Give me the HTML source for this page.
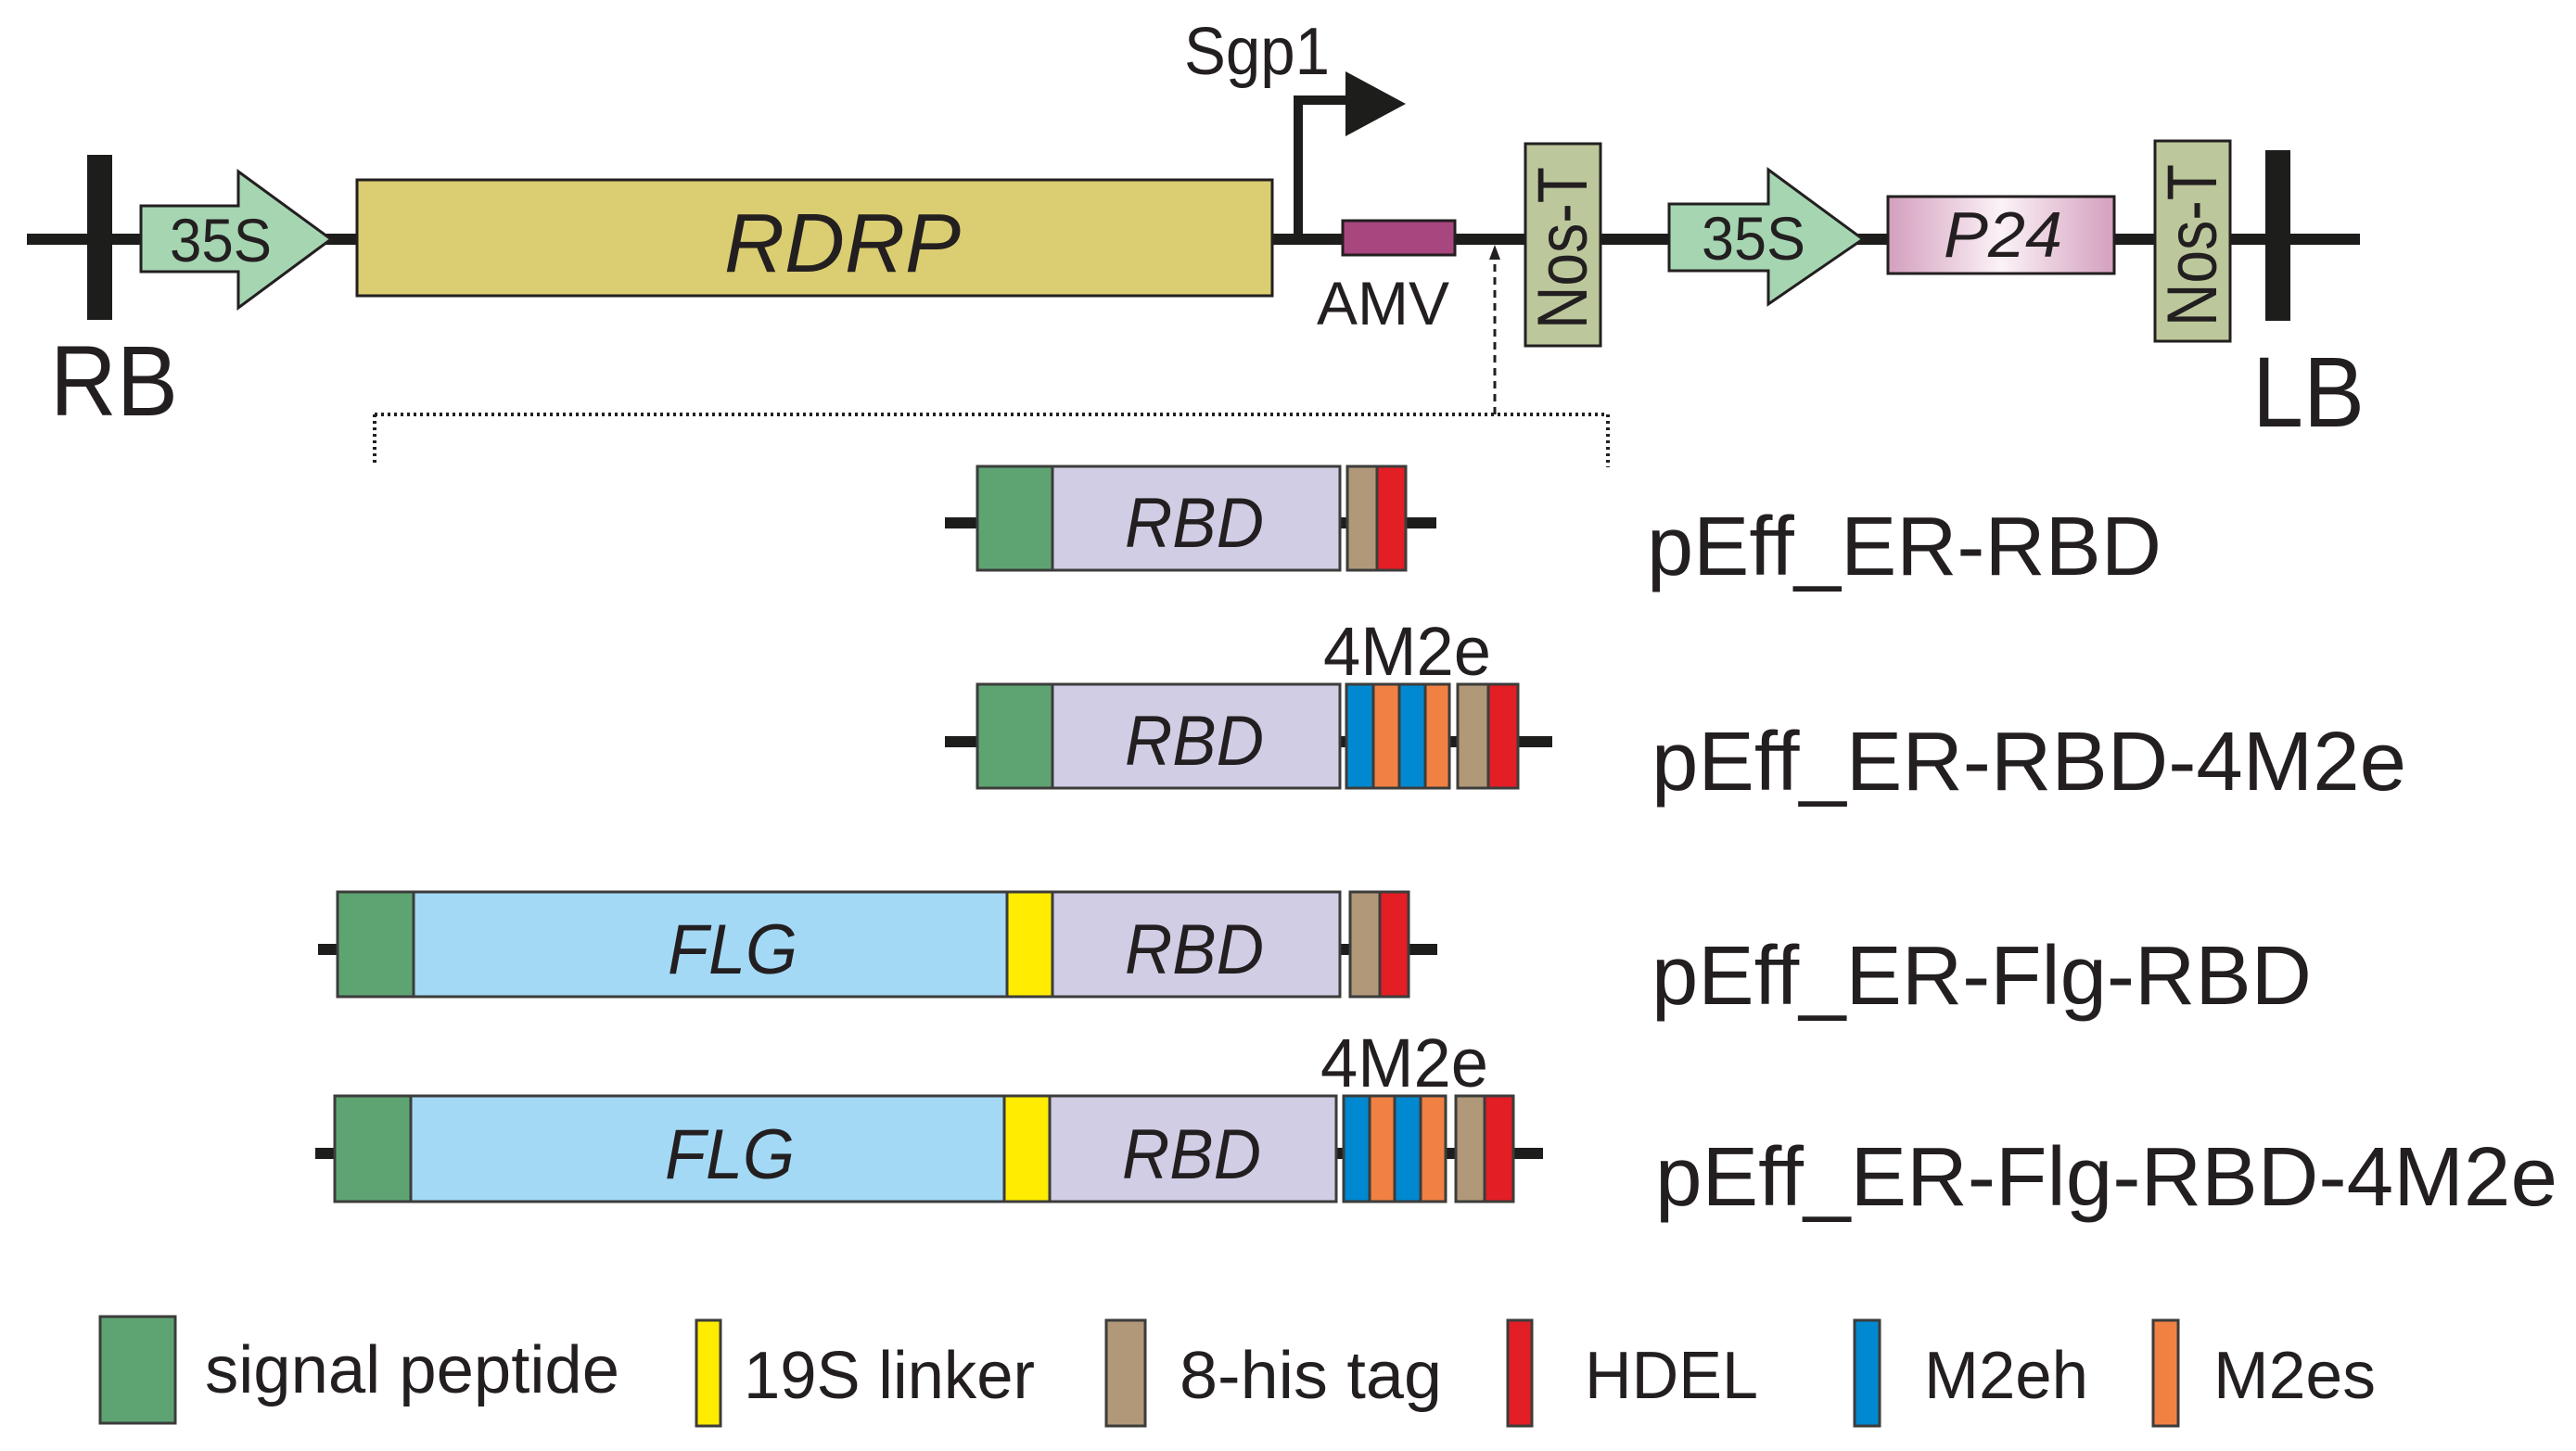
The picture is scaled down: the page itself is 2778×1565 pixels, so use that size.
<!DOCTYPE html>
<html><head><meta charset="utf-8"><style>
html,body{margin:0;padding:0;background:#fff;}
svg{display:block;}
text{font-family:"Liberation Sans",Arial,sans-serif;fill:#231f20;}
</style></head><body>
<svg width="2778" height="1565" viewBox="0 0 2778 1565" xmlns="http://www.w3.org/2000/svg">
<defs>
<linearGradient id="pg" x1="0" x2="1" y1="0" y2="0">
<stop offset="0" stop-color="#d49fbd"/><stop offset="0.5" stop-color="#fbf2f7"/><stop offset="1" stop-color="#d49fbd"/>
</linearGradient>
</defs>
<!-- main line -->
<rect x="29" y="252" width="2516" height="12" fill="#1d1d1b"/>
<rect x="94" y="167" width="27" height="178" fill="#1d1d1b"/>
<rect x="2443" y="162" width="27" height="184" fill="#1d1d1b"/>
<!-- 35S arrows -->
<polygon points="152,222 257,222 257,185 357,258 257,332 257,293 152,293" fill="#a6d5b2" stroke="#231f20" stroke-width="3"/>
<polygon points="1800,220 1907,220 1907,183 2009,258 1907,328 1907,292 1800,292" fill="#a6d5b2" stroke="#231f20" stroke-width="3"/>
<text x="183" y="282" font-size="66" textLength="110" lengthAdjust="spacingAndGlyphs">35S</text>
<text x="1835" y="280" font-size="66" textLength="112" lengthAdjust="spacingAndGlyphs">35S</text>
<!-- RDRP -->
<rect x="385" y="194" width="987" height="125" fill="#dacd72" stroke="#231f20" stroke-width="3"/>
<text x="781" y="293" font-size="90" font-style="italic" textLength="255" lengthAdjust="spacingAndGlyphs">RDRP</text>
<!-- promoter -->
<path d="M1400,258 V108 H1455" fill="none" stroke="#1d1d1b" stroke-width="10"/>
<polygon points="1451,77 1516,112 1451,147" fill="#1d1d1b"/>
<text x="1277" y="80" font-size="72" textLength="157" lengthAdjust="spacingAndGlyphs">Sgp1</text>
<!-- AMV -->
<rect x="1448" y="238" width="121" height="37" fill="#a8467f" stroke="#231f20" stroke-width="3"/>
<text x="1420" y="350" font-size="66" textLength="143" lengthAdjust="spacingAndGlyphs">AMV</text>
<!-- Nos-T -->
<rect x="1645" y="155" width="81" height="218" fill="#bcc89c" stroke="#231f20" stroke-width="3"/>
<text transform="translate(1711,355) rotate(-90)" font-size="76" textLength="175" lengthAdjust="spacingAndGlyphs">Nos-T</text>
<rect x="2324" y="152" width="81" height="216" fill="#bcc89c" stroke="#231f20" stroke-width="3"/>
<text transform="translate(2390,352) rotate(-90)" font-size="76" textLength="175" lengthAdjust="spacingAndGlyphs">Nos-T</text>
<!-- P24 -->
<rect x="2036" y="212" width="244" height="83" fill="url(#pg)" stroke="#231f20" stroke-width="3"/>
<text x="2096" y="277" font-size="70" font-style="italic" textLength="128" lengthAdjust="spacingAndGlyphs">P24</text>
<!-- RB LB -->
<text x="54" y="448" font-size="108" textLength="138" lengthAdjust="spacingAndGlyphs">RB</text>
<text x="2429" y="460" font-size="108" textLength="121" lengthAdjust="spacingAndGlyphs">LB</text>
<!-- dotted -->
<path d="M404,447 H1734 M404,447 V502 M1734,447 V504" fill="none" stroke="#231f20" stroke-width="4" stroke-dasharray="3,4"/>
<path d="M1612,447 V275" fill="none" stroke="#231f20" stroke-width="3" stroke-dasharray="8,6"/>
<polygon points="1606,280 1612,264 1618,280" fill="#231f20"/>

<g stroke="#3c3c3b" stroke-width="3">
<!-- Row1 -->
<rect x="1019" y="558" width="530" height="12" fill="#1d1d1b" stroke="none"/>
<rect x="1054" y="503" width="81" height="112" fill="#5ea473"/>
<rect x="1135" y="503" width="310" height="112" fill="#d1cde5"/>
<rect x="1453" y="503" width="32" height="112" fill="#b19878"/>
<rect x="1485" y="503" width="31" height="112" fill="#e31e24"/>
<!-- Row2 -->
<rect x="1019" y="794" width="655" height="12" fill="#1d1d1b" stroke="none"/>
<rect x="1054" y="738" width="81" height="112" fill="#5ea473"/>
<rect x="1135" y="738" width="310" height="112" fill="#d1cde5"/>
<rect x="1452" y="738" width="29" height="112" fill="#0089d0"/>
<rect x="1481" y="738" width="28" height="112" fill="#f08143"/>
<rect x="1509" y="738" width="28" height="112" fill="#0089d0"/>
<rect x="1537" y="738" width="26" height="112" fill="#f08143"/>
<rect x="1572" y="738" width="33" height="112" fill="#b19878"/>
<rect x="1605" y="738" width="32" height="112" fill="#e31e24"/>
<!-- Row3 -->
<rect x="343" y="1018" width="1207" height="12" fill="#1d1d1b" stroke="none"/>
<rect x="364" y="962" width="82" height="113" fill="#5ea473"/>
<rect x="446" y="962" width="640" height="113" fill="#a3d9f5"/>
<rect x="1086" y="962" width="49" height="113" fill="#ffec00"/>
<rect x="1135" y="962" width="310" height="113" fill="#d1cde5"/>
<rect x="1456" y="962" width="32" height="113" fill="#b19878"/>
<rect x="1488" y="962" width="31" height="113" fill="#e31e24"/>
<!-- Row4 -->
<rect x="340" y="1238" width="1324" height="12" fill="#1d1d1b" stroke="none"/>
<rect x="361" y="1182" width="82" height="114" fill="#5ea473"/>
<rect x="443" y="1182" width="640" height="114" fill="#a3d9f5"/>
<rect x="1083" y="1182" width="49" height="114" fill="#ffec00"/>
<rect x="1132" y="1182" width="309" height="114" fill="#d1cde5"/>
<rect x="1449" y="1182" width="28" height="114" fill="#0089d0"/>
<rect x="1477" y="1182" width="27" height="114" fill="#f08143"/>
<rect x="1504" y="1182" width="28" height="114" fill="#0089d0"/>
<rect x="1532" y="1182" width="27" height="114" fill="#f08143"/>
<rect x="1570" y="1182" width="31" height="114" fill="#b19878"/>
<rect x="1601" y="1182" width="31" height="114" fill="#e31e24"/>
</g>
<g font-size="76" font-style="italic">
<text x="1213" y="590" textLength="150" lengthAdjust="spacingAndGlyphs">RBD</text>
<text x="1213" y="825" textLength="150" lengthAdjust="spacingAndGlyphs">RBD</text>
<text x="1213" y="1050" textLength="150" lengthAdjust="spacingAndGlyphs">RBD</text>
<text x="1210" y="1271" textLength="150" lengthAdjust="spacingAndGlyphs">RBD</text>
<text x="720" y="1050" textLength="140" lengthAdjust="spacingAndGlyphs">FLG</text>
<text x="717" y="1271" textLength="140" lengthAdjust="spacingAndGlyphs">FLG</text>
</g>
<text x="1427" y="728" font-size="74" textLength="181" lengthAdjust="spacingAndGlyphs">4M2e</text>
<text x="1424" y="1172" font-size="74" textLength="181" lengthAdjust="spacingAndGlyphs">4M2e</text>
<!-- construct labels -->
<g font-size="90">
<text x="1776" y="620" textLength="555" lengthAdjust="spacingAndGlyphs">pEff_ER-RBD</text>
<text x="1781" y="852" textLength="814" lengthAdjust="spacingAndGlyphs">pEff_ER-RBD-4M2e</text>
<text x="1781" y="1083" textLength="712" lengthAdjust="spacingAndGlyphs">pEff_ER-Flg-RBD</text>
<text x="1785" y="1300" textLength="973" lengthAdjust="spacingAndGlyphs">pEff_ER-Flg-RBD-4M2e</text>
</g>
<!-- legend -->
<g stroke="#3c3c3b" stroke-width="3">
<rect x="108" y="1420" width="81" height="115" fill="#5ea473"/>
<rect x="751" y="1424" width="26" height="114" fill="#ffec00"/>
<rect x="1193" y="1424" width="42" height="114" fill="#b19878"/>
<rect x="1626" y="1424" width="26" height="114" fill="#e31e24"/>
<rect x="2000" y="1424" width="27" height="114" fill="#0089d0"/>
<rect x="2322" y="1424" width="27" height="114" fill="#f08143"/>
</g>
<g font-size="72">
<text x="221" y="1502" textLength="447" lengthAdjust="spacingAndGlyphs">signal peptide</text>
<text x="802" y="1508" textLength="314" lengthAdjust="spacingAndGlyphs">19S linker</text>
<text x="1272" y="1508" textLength="283" lengthAdjust="spacingAndGlyphs">8-his tag</text>
<text x="1709" y="1508" textLength="187" lengthAdjust="spacingAndGlyphs">HDEL</text>
<text x="2075" y="1508" textLength="177" lengthAdjust="spacingAndGlyphs">M2eh</text>
<text x="2387" y="1508" textLength="175" lengthAdjust="spacingAndGlyphs">M2es</text>
</g>
</svg>
</body></html>
